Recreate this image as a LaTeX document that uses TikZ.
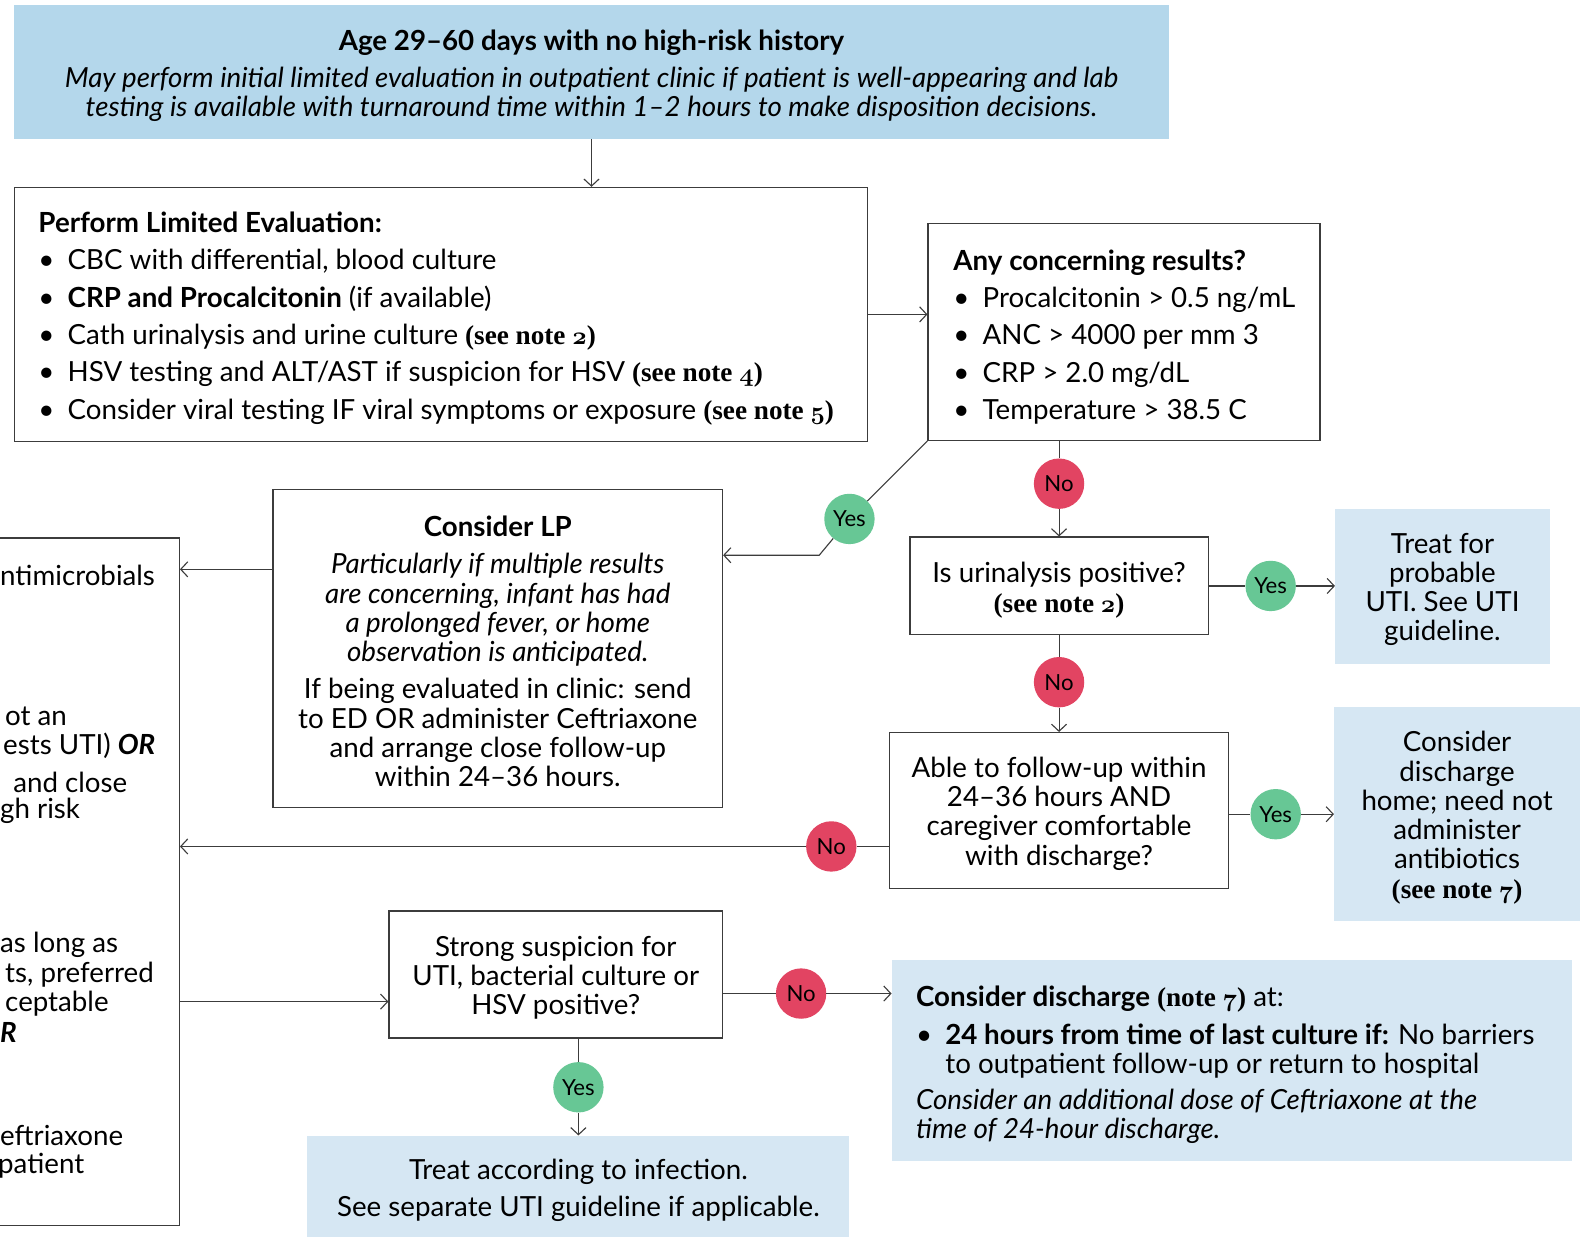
\documentclass[tikz,border=0pt]{standalone}
\usepackage{fontspec}
\setmainfont{Lato}
\newfontfamily\serifnote{Liberation Serif}
\usetikzlibrary{arrows.meta}
\definecolor{topblue}{HTML}{B4D7EB}
\definecolor{paleblue}{HTML}{D6E7F3}
\definecolor{nored}{HTML}{E24462}
\definecolor{yesgreen}{HTML}{67C795}
\definecolor{linegray}{HTML}{3C3C3C}
\newcommand\mainsz{\fontsize{27.5}{29}\selectfont}
\newcommand\notefnt{\serifnote\bfseries\fontsize{27}{29}\selectfont}
\newcommand\osd[1]{{\usefont{OML}{cmm}{b}{it}#1}}
\newcommand\seenote[1]{{\notefnt (see note~\osd{#1})}}
\newcommand\bul{\makebox[29pt][l]{\textbullet}}
\begin{document}
\begin{tikzpicture}[x=1pt,y=-1pt,
  box/.style={draw=linegray, line width=1.2pt, fill=white, inner sep=0pt},
  pale/.style={fill=paleblue, inner sep=0pt},
  ctext/.style={inner sep=0pt, align=center, font=\mainsz},
  txt/.style={inner sep=0pt, align=left, anchor=west, font=\mainsz},
  frag/.style={inner sep=0pt, anchor=west, font=\mainsz},
  yesc/.style={circle, fill=yesgreen, minimum size=50pt, inner sep=0pt, font=\fontsize{22}{22}\selectfont},
  noc/.style={circle, fill=nored, minimum size=50pt, inner sep=0pt, font=\fontsize{22}{22}\selectfont},
  conn/.style={draw=linegray, line width=1.1pt},
  arr/.style={conn, -{Straight Barb[length=7pt,width=15pt]}}]
\useasboundingbox (0,0) rectangle (1568,1227);
\clip (0,0) rectangle (1568,1227);
\fill[white] (0,0) rectangle (1568,1227);

% top box
\node[fill=topblue, minimum width=1146pt, minimum height=133pt, inner sep=0pt] (top) at (587,71.5) {};
\node[ctext] (toptxt) at (587,75)
 {\textbf{Age 29–60 days with no high-risk history}\\[8pt]
  \textit{May perform initial limited evaluation in outpatient clinic if patient is well-appearing and lab}\\
  \textit{testing is available with turnaround time within 1–2 hours to make disposition decisions.}};

% limited evaluation
\node[box, minimum width=847pt, minimum height=252pt] (eval) at (437.5,312) {};
\node[txt] (evaltxt) at (38,316)
 {\textbf{Perform Limited Evaluation:}\\[8pt]
  \bul CBC with differential, blood culture\\[8pt]
  \bul\textbf{CRP and Procalcitonin} (if available)\\[8pt]
  \bul Cath urinalysis and urine culture \seenote{2}\\[8pt]
  \bul HSV testing and ALT/AST if suspicion for HSV \seenote{4}\\[8pt]
  \bul Consider viral testing IF viral symptoms or exposure \seenote{5}};

% concerning results
\node[box, minimum width=389pt, minimum height=215pt] (conc) at (1115.5,329.5) {};
\node[txt] (conctxt) at (946,334.5)
 {\textbf{Any concerning results?}\\[8pt]
  \bul Procalcitonin > 0.5 ng/mL\\[8pt]
  \bul ANC > 4000 per mm 3\\[8pt]
  \bul CRP > 2.0 mg/dL\\[8pt]
  \bul Temperature > 38.5 C};

% consider LP
\node[box, minimum width=446pt, minimum height=315pt] (lp) at (494,643.5) {};
\node[ctext] (lptxt) at (494,646.5)
 {\textbf{Consider LP}\\[8pt]
  \textit{Particularly if multiple results}\\
  \textit{are concerning, infant has had}\\
  \textit{a prolonged fever, or home}\\
  \textit{observation is anticipated.}\\[8pt]
  If being evaluated in clinic: send\\
  to ED OR administer Ceftriaxone\\
  and arrange close follow-up\\
  within 24–36 hours.};

% urinalysis
\node[box, minimum width=296pt, minimum height=97pt] (ua) at (1051,581.5) {};
\node[ctext] (uatxt) at (1051,585.5) {Is urinalysis positive?\\[1pt]\seenote{2}};

\node[pale, minimum width=213pt, minimum height=154pt] (tp) at (1431.5,582) {};
\node[ctext] (tptxt) at (1431.5,585) {Treat for\\probable\\UTI. See UTI\\guideline.};

% follow-up
\node[box, minimum width=336pt, minimum height=155pt] (fu) at (1051,804.5) {};
\node[ctext] (futxt) at (1051,807.5)
 {Able to follow-up within\\24–36 hours AND\\caregiver comfortable\\with discharge?};

\node[pale, minimum width=244pt, minimum height=212pt] (cd) at (1446,808) {};
\node[ctext] (cdtxt) at (1446,811.5)
 {Consider\\discharge\\home; need not\\administer\\antibiotics\\\seenote{7}};

% left (cut) box
\node[box, minimum width=200pt, minimum height=682pt] (left) at (78,875) {};
\node[frag] (f1) at (0,571) {ntimicrobials};
\node[frag] (f2) at (5,711) {ot an};
\node[frag] (f3) at (3,740) {ests UTI) \textbf{\textit{OR}}};
\node[frag] (f4) at (13,776) {and close};
\node[frag] (f5) at (0,805) {gh risk};
\node[frag] (f6) at (0,938) {as long as};
\node[frag] (f7) at (5,967) {ts, preferred};
\node[frag] (f8) at (5,996) {ceptable};
\node[frag] (f9) at (0,1025) {\textbf{\textit{R}}};
\node[frag] (f10) at (0,1127) {eftriaxone};
\node[frag] (f11) at (-2,1157) {patient};

% strong suspicion
\node[box, minimum width=331pt, minimum height=126pt] (ss) at (551.5,967) {};
\node[ctext] (sstxt) at (551.5,970.5)
 {Strong suspicion for\\UTI, bacterial culture or\\HSV positive?};

% consider discharge
\node[pale, minimum width=675pt, minimum height=199pt] (dis) at (1222.5,1052.5) {};
\node[txt] (distxt) at (909,1057)
 {\textbf{Consider discharge} {\notefnt (note~\osd{7})} at:\\[8pt]
  \bul\textbf{24 hours from time of last culture if:} No barriers\\
  \hspace*{29pt}to outpatient follow-up or return to hospital\\[7pt]
  \textit{Consider an additional dose of Ceftriaxone at the}\\
  \textit{time of 24-hour discharge.}};

% treat according
\node[pale, minimum width=538pt, minimum height=102pt] (ta) at (574,1178) {};
\node[ctext] (tatxt) at (574,1181.5)
 {Treat according to infection.\\[8pt]See separate UTI guideline if applicable.};

% circles
\node[noc] (no1) at (1051,480) {No};
\node[yesc] (yes1) at (843,515) {Yes};
\node[noc] (no2) at (1051,677) {No};
\node[yesc] (yes2) at (1261,581.5) {Yes};
\node[yesc] (yes3) at (1266,808) {Yes};
\node[noc] (no3) at (825,840) {No};
\node[noc] (no4) at (795,986) {No};
\node[yesc] (yes4) at (574,1079) {Yes};

\coordinate (k1) at (813,551);
\coordinate (k2) at (0,565);
\coordinate (k3) at (0,994);

% connectors
\draw[arr] (top.south) -- (top.south |- eval.north);
\draw[arr] (eval.east) -- (conc.west |- eval.east);
\draw[conn] (ua.north |- conc.south) -- (no1);
\draw[arr] (no1) -- (ua.north);
\draw[conn] (conc.south west) -- (yes1);
\draw[arr] (yes1) -- (k1) -- (k1 -| lp.east);
\draw[conn] (ua.south) -- (no2);
\draw[arr] (no2) -- (fu.north);
\draw[conn] (ua.east) -- (yes2);
\draw[arr] (yes2) -- (tp.west |- yes2);
\draw[conn] (fu.east |- yes3) -- (yes3);
\draw[arr] (yes3) -- (cd.west |- yes3);
\draw[conn] (fu.west |- no3) -- (no3);
\draw[arr] (no3) -- (left.east |- no3);
\draw[arr] (lp.west |- k2) -- (left.east |- k2);
\draw[arr] (left.east |- k3) -- (ss.west |- k3);
\draw[conn] (ss.east |- no4) -- (no4);
\draw[arr] (no4) -- (dis.west |- no4);
\draw[conn] (ta.north |- ss.south) -- (yes4);
\draw[arr] (yes4) -- (ta.north);
\end{tikzpicture}
\end{document}
